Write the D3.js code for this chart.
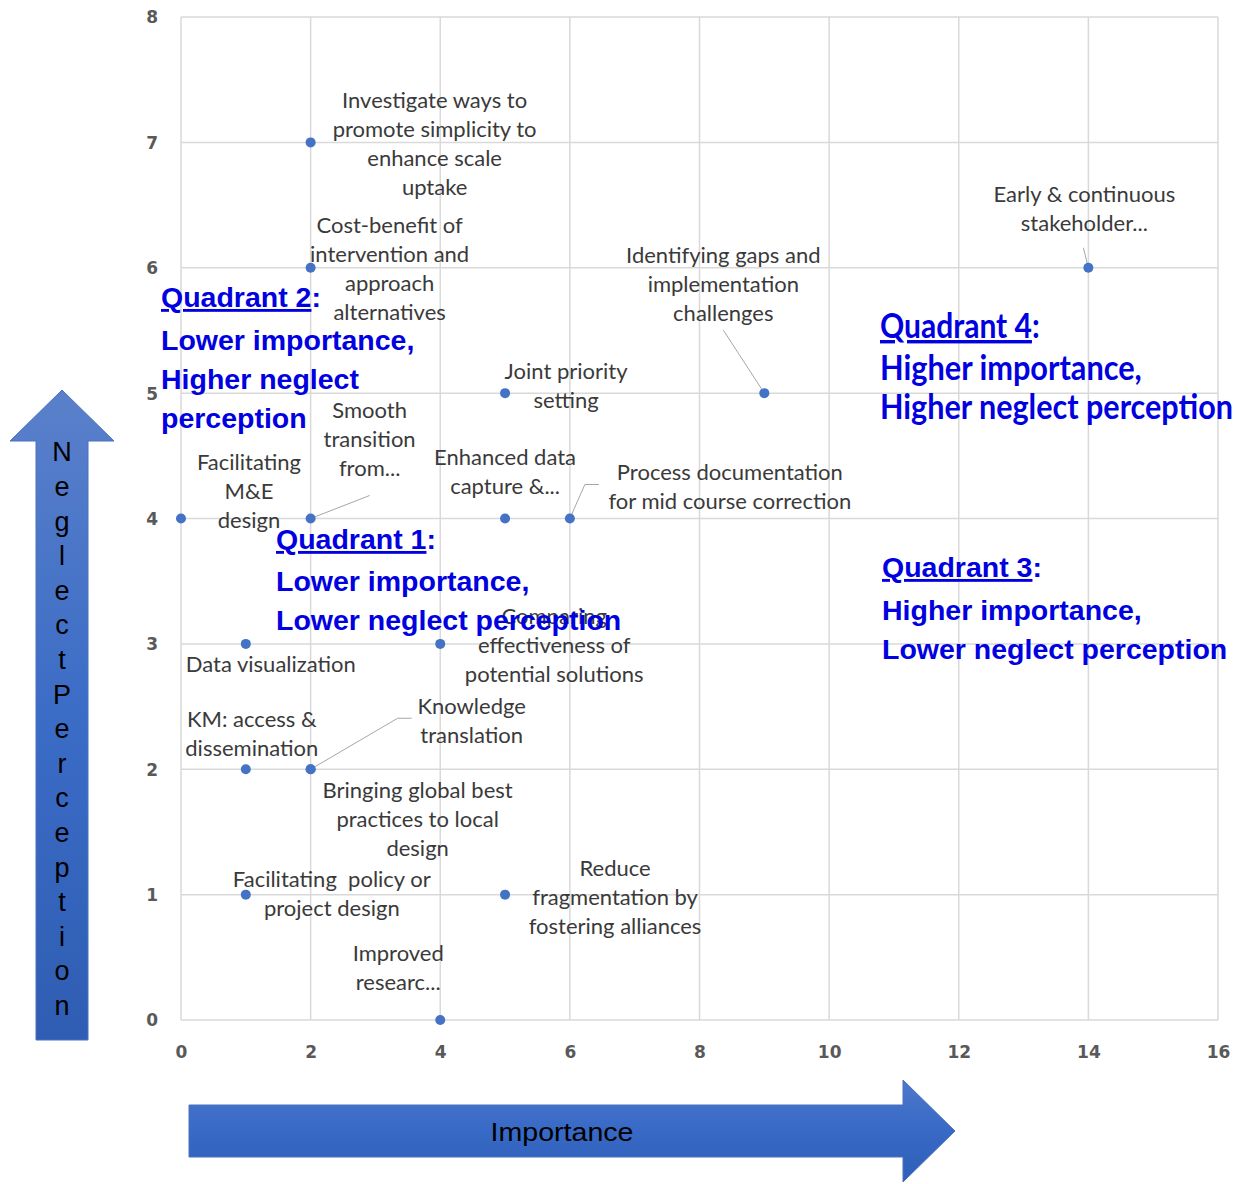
<!DOCTYPE html>
<html>
<head>
<meta charset="utf-8">
<script src="https://cdn.jsdelivr.net/npm/d3@7"></script>
<style>
  html, body { margin: 0; padding: 0; background: #ffffff; }
  svg { display: block; }
  text { white-space: pre; }
</style>
</head>
<body>
<svg id="chart" width="1247" height="1184"></svg>
<script>
// ---- data -------------------------------------------------------------
const topics = [
  "Investigate ways to|promote simplicity to|enhance scale|uptake",
  "Cost-benefit of|intervention and|approach|alternatives",
  "Early & continuous|stakeholder...",
  "Identifying gaps and|implementation|challenges",
  "Joint priority|setting",
  "Smooth|transition|from...",
  "Facilitating|M&E|design",
  "Enhanced data|capture &...",
  "Process documentation|for mid course correction",
  "Data visualization",
  "Comparing|effectiveness of|potential solutions",
  "KM: access &|dissemination",
  "Knowledge|translation",
  "Bringing global best|practices to local|design",
  "Facilitating  policy or|project design",
  "Reduce|fragmentation by|fostering alliances",
  "Improved|researc..."
];
const importance = [2, 2, 14, 9, 5, 2, 0, 5, 6, 1, 4, 1, 2, 2, 1, 5, 4];
const neglect    = [7, 6, 6, 5, 5, 4, 4, 4, 4, 3, 3, 2, 2, 2, 1, 1, 0];

const xTicks = [0, 2, 4, 6, 8, 10, 12, 14, 16];
const yTicks = [0, 1, 2, 3, 4, 5, 6, 7, 8];

const quadrantTitles = ["Quadrant 2", "Quadrant 1", "Quadrant 3", "Quadrant 4"];
const quadrantLines = [
  ["Lower importance,", "Higher neglect", "perception"],
  ["Lower importance,", "Lower neglect perception"],
  ["Higher importance,", "Lower neglect perception"],
  ["Higher importance,", "Higher neglect perception"]
];

const xAxisTitle = "Importance";
const yAxisTitle = "NeglectPerception";

// ---- layout -----------------------------------------------------------
const plot = { left: 181, right: 1218, top: 17, bottom: 1020 };

// label placement relative to each point: centre offset of first line, and optional leader path
const labelLayout = [
  { dx: 124, dy: -42 },
  { dx: 79,  dy: -42 },
  { dx: -4,  dy: -73, leader: [[-5, -20]] },
  { dx: -41, dy: -138, leader: [[-41, -63]] },
  { dx: 61,  dy: -22 },
  { dx: 59,  dy: -108, leader: [[59, -23]] },
  { dx: 68,  dy: -56 },
  { dx: 0,   dy: -61 },
  { dx: 160, dy: -46, leader: [[29, -34], [15, -34]] },
  { dx: 25,  dy: 20 },
  { dx: 114, dy: -28 },
  { dx: 6,   dy: -50 },
  { dx: 161, dy: -63, leader: [[101, -51], [87, -51]] },
  { dx: 107, dy: 21 },
  { dx: 86,  dy: -15 },
  { dx: 110, dy: -26 },
  { dx: -42, dy: -67 }
];
const lineHeight = 29;

const armFont = "'Liberation Sans', Arial, sans-serif";
const quadrantLayout = [
  { x: 161, y: [297, 340, 379, 418], font: armFont, size: 28.5 },
  { x: 276, y: [539, 581, 620],      font: armFont, size: 28.5 },
  { x: 882, y: [567, 610, 649],      font: armFont, size: 28.5 },
  // condensed face: each line is squeezed horizontally to its width
  { x: 880, y: [326, 368, 407],      font: "Lato, sans-serif", size: 34, fit: [152, 262, 353] }
];

const svg = d3.select("#chart");

const x = d3.scaleLinear().domain([0, 16]).range([plot.left, plot.right]);
const y = d3.scaleLinear().domain([0, 8]).range([plot.bottom, plot.top]);

// ---- gradient for the direction arrows ---------------------------------
const defs = svg.append("defs");
const grad = defs.append("linearGradient")
  .attr("id", "arrowFill").attr("x1", 0).attr("y1", 0).attr("x2", 0).attr("y2", 1);
grad.append("stop").attr("offset", "0%").attr("stop-color", "#5a80ca");
grad.append("stop").attr("offset", "50%").attr("stop-color", "#3b6cc6");
grad.append("stop").attr("offset", "100%").attr("stop-color", "#2f5db3");
const gradH = defs.append("linearGradient")
  .attr("id", "arrowFillH").attr("x1", 0).attr("y1", 0).attr("x2", 0).attr("y2", 1);
gradH.append("stop").attr("offset", "0%").attr("stop-color", "#4e78ca");
gradH.append("stop").attr("offset", "50%").attr("stop-color", "#3769c6");
gradH.append("stop").attr("offset", "100%").attr("stop-color", "#2f5fb6");

// ---- grid ----------------------------------------------------------------
const grid = svg.append("g").attr("class", "grid");
grid.selectAll("line.v").data(xTicks).join("line")
  .attr("class", "v")
  .attr("x1", d => x(d)).attr("x2", d => x(d))
  .attr("y1", plot.top).attr("y2", plot.bottom)
  .attr("stroke", "#d9d9d9").attr("stroke-width", 1.5);
grid.selectAll("line.h").data(yTicks).join("line")
  .attr("class", "h")
  .attr("x1", plot.left).attr("x2", plot.right)
  .attr("y1", d => y(d)).attr("y2", d => y(d))
  .attr("stroke", "#d9d9d9").attr("stroke-width", 1.5);

// ---- axes (tick labels only) ---------------------------------------------
const xAxis = svg.append("g")
  .attr("transform", `translate(0,${plot.bottom + 32})`)
  .call(d3.axisBottom(x).tickValues(xTicks).tickSize(0).tickPadding(0).tickFormat(d3.format("d")));
const yAxis = svg.append("g")
  .attr("transform", `translate(${plot.left - 23},0)`)
  .call(d3.axisLeft(y).tickValues(yTicks).tickSize(0).tickPadding(0).tickFormat(d3.format("d")));
[xAxis, yAxis].forEach(a => {
  a.select(".domain").remove();
  a.selectAll("text")
    .attr("fill", "#595959")
    .attr("dy", "0.35em")
    .style("font-family", "'DejaVu Sans', Verdana, sans-serif")
    .style("font-weight", "bold")
    .style("font-size", "17px");
});

// ---- data labels and leader lines ---------------------------------------
const points = topics.map((t, i) => ({
  text: t.split("|"),
  px: x(importance[i]),
  py: y(neglect[i]),
  lay: labelLayout[i]
}));

svg.append("g").attr("class", "leaders")
  .selectAll("path").data(points.filter(p => p.lay.leader)).join("path")
  .attr("d", p => d3.line()([...p.lay.leader.map(([a, b]) => [p.px + a, p.py + b]), [p.px, p.py]]))
  .attr("fill", "none").attr("stroke", "#a6a6a6").attr("stroke-width", 1);

const labels = svg.append("g").attr("class", "labels")
  .selectAll("text").data(points).join("text")
  .attr("text-anchor", "middle")
  .attr("fill", "#3a3a3a")
  .style("font-family", "Lato, 'Open Sans', sans-serif")
  .style("font-size", "22px");
labels.selectAll("tspan").data(p => p.text.map((s, k) => ({ s, k, p }))).join("tspan")
  .attr("x", d => d.p.px + d.p.lay.dx)
  .attr("y", d => d.p.py + d.p.lay.dy + d.k * lineHeight)
  .attr("dy", "0.35em")
  .text(d => d.s);

// ---- points ---------------------------------------------------------------
svg.append("g").attr("class", "points")
  .selectAll("circle").data(points).join("circle")
  .attr("cx", p => p.px).attr("cy", p => p.py)
  .attr("r", 5).attr("fill", "#4472c4");

// ---- quadrant annotations -------------------------------------------------
const qColor = "#0000e0";
quadrantTitles.forEach((title, i) => {
  const L = quadrantLayout[i];
  const g = svg.append("g").attr("class", "quadrant")
    .style("font-family", L.font).style("font-weight", "bold")
    .style("font-size", L.size + "px").attr("fill", qColor);
  const rows = [];
  const t0 = g.append("text").attr("y", L.y[0]).attr("dy", "0.35em");
  t0.append("tspan").style("text-decoration", "underline").text(title);
  t0.append("tspan").text(":");
  rows.push(t0);
  quadrantLines[i].forEach((line, k) => {
    rows.push(g.append("text").attr("y", L.y[k + 1]).attr("dy", "0.35em").text(line));
  });
  rows.forEach((t, k) => {
    if (L.fit) {
      const node = t.node();
      const natural = k === 0 ? node.getSubStringLength(0, title.length) : node.getComputedTextLength();
      t.attr("transform", `translate(${L.x},0) scale(${L.fit[k] / natural},1)`);
    } else {
      t.attr("x", L.x);
    }
  });
});

// ---- direction arrows -----------------------------------------------------
// vertical: Neglect Perception
const vArrow = { cx: 62, tip: 390, headBase: 441, headHalf: 52, shaftHalf: 26, bottom: 1040 };
svg.append("path")
  .attr("d", d3.line()([
    [vArrow.cx, vArrow.tip],
    [vArrow.cx + vArrow.headHalf, vArrow.headBase],
    [vArrow.cx + vArrow.shaftHalf, vArrow.headBase],
    [vArrow.cx + vArrow.shaftHalf, vArrow.bottom],
    [vArrow.cx - vArrow.shaftHalf, vArrow.bottom],
    [vArrow.cx - vArrow.shaftHalf, vArrow.headBase],
    [vArrow.cx - vArrow.headHalf, vArrow.headBase]
  ]) + "Z")
  .attr("fill", "url(#arrowFill)").attr("stroke", "#4a72c0").attr("stroke-width", 1);

svg.append("g").selectAll("text").data(yAxisTitle.split("")).join("text")
  .attr("x", vArrow.cx)
  .attr("y", (d, i) => 452 + i * 34.6)
  .attr("dy", "0.35em")
  .attr("text-anchor", "middle")
  .attr("fill", "#000")
  .style("font-family", armFont)
  .style("font-size", "27px")
  .text(d => d);

// horizontal: Importance
const hArrow = { cy: 1131, left: 189, headBase: 903, tip: 955, headHalf: 51, shaftHalf: 26 };
svg.append("path")
  .attr("d", d3.line()([
    [hArrow.left, hArrow.cy - hArrow.shaftHalf],
    [hArrow.headBase, hArrow.cy - hArrow.shaftHalf],
    [hArrow.headBase, hArrow.cy - hArrow.headHalf],
    [hArrow.tip, hArrow.cy],
    [hArrow.headBase, hArrow.cy + hArrow.headHalf],
    [hArrow.headBase, hArrow.cy + hArrow.shaftHalf],
    [hArrow.left, hArrow.cy + hArrow.shaftHalf]
  ]) + "Z")
  .attr("fill", "url(#arrowFillH)").attr("stroke", "#4a72c0").attr("stroke-width", 1);

svg.append("text")
  .attr("x", 562).attr("y", hArrow.cy + 1)
  .attr("dy", "0.35em")
  .attr("text-anchor", "middle")
  .attr("fill", "#000")
  .attr("textLength", 143).attr("lengthAdjust", "spacingAndGlyphs")
  .style("font-family", armFont)
  .style("font-size", "25px")
  .text(xAxisTitle);
</script>
</body>
</html>
